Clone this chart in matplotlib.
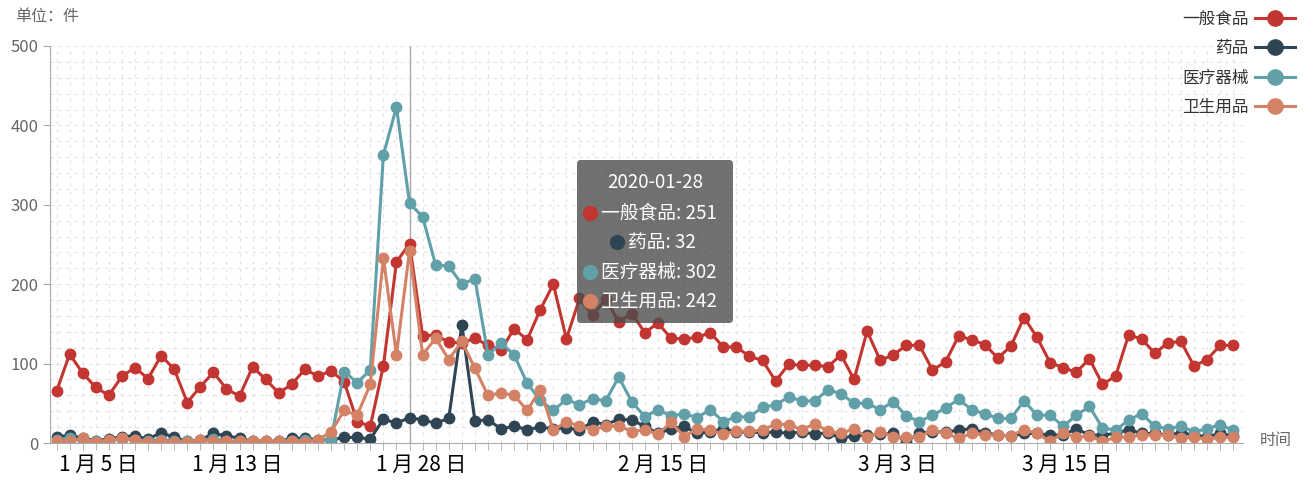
import numpy as np
import matplotlib.pyplot as plt
from matplotlib.patches import FancyBboxPatch
from matplotlib.lines import Line2D
from matplotlib.transforms import IdentityTransform

plt.rcParams['font.family'] = ['Noto Sans CJK SC', 'DejaVu Sans']

dates = np.arange('2020-01-01', '2020-04-01', dtype='datetime64[D]')

food = [65, 112, 88, 70, 60, 84, 95, 81, 110, 93, 51, 71, 89, 68, 59, 96, 80, 63, 74, 93, 84, 91,
        77, 27, 21, 97, 228, 251, 135, 136, 127, 126, 132, 123, 117, 144, 130, 168, 200, 131,
        182, 161, 181, 153, 163, 139, 151, 132, 131, 133, 139, 121, 121, 109, 104, 78, 99, 98, 98, 96,
        111, 80, 141, 104, 111, 123, 123, 92, 102, 135, 130, 124, 107, 122, 158, 133, 101, 95, 89, 106,
        74, 84, 136, 131, 113, 126, 128, 97, 105, 123, 123]
medicine = [7, 10, 6, 3, 5, 8, 9, 5, 13, 7, 2, 4, 12, 9, 6, 2, 2, 2, 6, 6, 4, 4,
            7, 7, 5, 30, 25, 32, 29, 25, 31, 149, 28, 29, 18, 21, 17, 20, 18, 19,
            16, 27, 23, 30, 29, 21, 12, 18, 21, 12, 14, 18, 14, 14, 13, 14, 12, 14, 11, 13,
            6, 9, 10, 11, 12, 2, 12, 14, 14, 16, 18, 13, 10, 9, 12, 12, 10, 10, 18, 10,
            10, 12, 17, 12, 12, 10, 13, 10, 8, 12, 9]
device = [4, 6, 3, 2, 3, 5, 4, 3, 4, 3, 2, 3, 5, 3, 2, 3, 2, 3, 3, 4, 3, 5,
          90, 76, 92, 363, 423, 302, 285, 224, 223, 200, 207, 111, 126, 111, 75, 54, 41, 55,
          48, 56, 53, 83, 52, 33, 42, 34, 37, 32, 42, 27, 33, 33, 45, 48, 58, 53, 53, 67,
          62, 50, 50, 42, 52, 34, 27, 35, 44, 55, 42, 37, 31, 31, 53, 35, 35, 21, 35, 46,
          19, 16, 29, 37, 21, 18, 21, 14, 18, 23, 16]
hygiene = [2, 2, 6, 1, 4, 6, 4, 1, 2, 1, 1, 4, 2, 2, 2, 3, 3, 2, 2, 1, 4, 14,
           41, 35, 74, 233, 111, 242, 111, 132, 105, 128, 94, 60, 63, 60, 41, 67, 16, 27,
           21, 17, 21, 22, 14, 17, 11, 26, 8, 18, 16, 11, 15, 15, 16, 24, 23, 17, 24, 15,
           12, 18, 7, 14, 8, 7, 8, 16, 12, 6, 12, 10, 10, 9, 17, 12, 2, 13, 7, 9,
           2, 7, 8, 10, 10, 10, 6, 7, 5, 7, 7]

names = ['一般食品', '药品', '医疗器械', '卫生用品']
series = [food, medicine, device, hygiene]
colors = ['#c23531', '#2f4554', '#61a0a8', '#d48265']

tick_labels = ['1 月 5 日', '1 月 13 日', '1 月 28 日', '2 月 15 日', '3 月 3 日', '3 月 15 日']
tick_pos = [3.2, 13.8, 27.9, 46.4, 64.3, 77.3]
hover = 27  # 2020-01-28

W, H = 1314, 482
fig = plt.figure(figsize=(W / 100, H / 100), dpi=100)
ax = fig.add_axes([50 / W, 1 - 443 / H, (1243 - 50) / W, (443 - 46) / H])

x = np.arange(len(dates))
for name, vals, c in zip(names, series, colors):
    ax.plot(x, vals, color=c, lw=2.2, marker='o', ms=7.5, label=name)

ax.set_xlim(-0.5, 90.75)
ax.set_ylim(0, 500)

# grid
ax.set_yticks(np.arange(0, 501, 100))
ax.set_yticks(np.arange(0, 501, 20), minor=True)
ax.set_xticks(x, minor=True)
ax.grid(True, which='minor', axis='both', color='#e2e2e2', ls=(0, (3, 4)), lw=0.8)
ax.grid(True, which='major', axis='y', color='#e2e2e2', ls=(0, (3, 4)), lw=0.8)
ax.set_axisbelow(True)

for s in ['top', 'right']:
    ax.spines[s].set_visible(False)
ax.spines['left'].set_color('#aaaaaa')
ax.spines['bottom'].set_color('#aaaaaa')

ax.tick_params(axis='y', which='major', colors='#aaaaaa', labelcolor='#666666',
               labelsize=12, length=5)
ax.tick_params(axis='y', which='minor', length=0)
ax.tick_params(axis='x', which='minor', colors='#aaaaaa', length=5)
ax.set_xticks(tick_pos)
ax.set_xticklabels(tick_labels)
ax.tick_params(axis='x', which='major', length=0, labelsize=15, labelcolor='black', pad=8)

# axis pointer
ax.axvline(hover, color='#aaaaaa', lw=1, zorder=1)

fig.text(15 / W, 1 - 17 / H, '单位：件', color='#666666', fontsize=11.5, va='center')
fig.text(1260 / W, 1 - 441 / H, '时间', color='#666666', fontsize=11.5, va='center')

leg = ax.legend(loc='upper right', bbox_to_anchor=(1302 / W, 1 - 4 / H),
                bbox_transform=fig.transFigure, markerfirst=False, frameon=False,
                fontsize=12, labelcolor='#333333', handlelength=2.4,
                labelspacing=0.75, handletextpad=0.4, borderaxespad=0)
for h in leg.legend_handles:
    h.set_markersize(11)

# tooltip
tip = FancyBboxPatch((577, H - 323), 156, 163, boxstyle='round,pad=0,rounding_size=4',
                     transform=IdentityTransform(), facecolor=(0.3, 0.3, 0.3, 0.8),
                     edgecolor='none', zorder=10)
fig.patches.append(tip)
fig.text(655 / W, 1 - 183 / H, str(dates[hover]), color='white', fontsize=13.5,
         ha='center', va='center', zorder=11)
row_y = [213, 242, 272, 301]
row_x = [590, 617, 590, 590]
for name, vals, c, ry, rx in zip(names, series, colors, row_y, row_x):
    fig.add_artist(Line2D([rx / W], [1 - ry / H], marker='o', ms=10, color=c,
                          transform=fig.transFigure, zorder=11))
    fig.text((rx + 11) / W, 1 - ry / H, f'{name}: {vals[hover]}', color='white',
             fontsize=13.5, va='center', zorder=11)

fig.savefig('out.png', dpi=100)
